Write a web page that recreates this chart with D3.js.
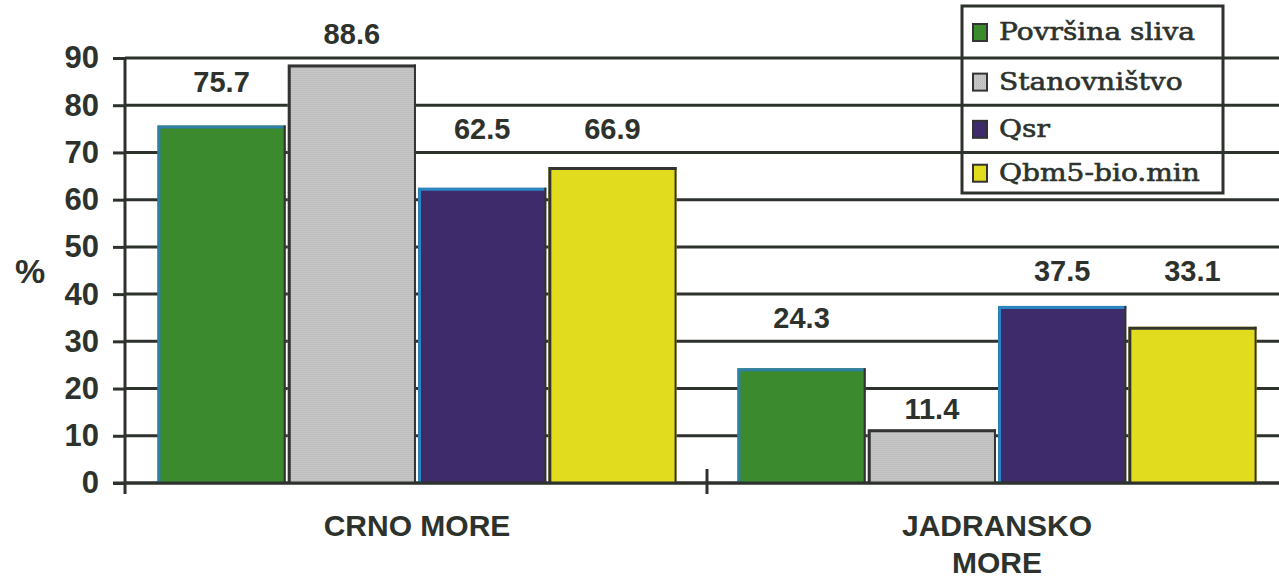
<!DOCTYPE html>
<html>
<head>
<meta charset="utf-8">
<script src="https://cdn.jsdelivr.net/npm/d3@7"></script>
<style>
  html, body { margin: 0; padding: 0; background: #fff; }
  svg { display: block; }
</style>
</head>
<body>
<script>
// Share of the two sea basins (percent)
const categories = ["CRNO MORE", "JADRANSKO MORE"];
const seriesNames = ["Površina sliva", "Stanovništvo", "Qsr", "Qbm5-bio.min"];
const crnoMore = [75.7, 88.6, 62.5, 66.9];
const jadranskoMore = [24.3, 11.4, 37.5, 33.1];
const yTicks = [0, 10, 20, 30, 40, 50, 60, 70, 80, 90];

const values = [crnoMore, jadranskoMore];
const fills = ["#3b8a2e", "url(#stipple)", "#3d2b6b", "#e2dc1e"];
const edges = ["#2f7fa8", "#333", "#2a86c0", "#333"];

const W = 1279, H = 579;
const svg = d3.select("body").append("svg").attr("width", W).attr("height", H);
const sans = "'Liberation Sans', Arial, sans-serif";

// stippled grey fill
const defs = svg.append("defs");
const pat = defs.append("pattern").attr("id", "stipple")
  .attr("width", 2).attr("height", 2).attr("patternUnits", "userSpaceOnUse");
pat.append("rect").attr("width", 2).attr("height", 2).attr("fill", "#d4d4d4");
pat.append("rect").attr("width", 1).attr("height", 1).attr("fill", "#a9a9a9");
pat.append("rect").attr("x", 1).attr("y", 1).attr("width", 1).attr("height", 1).attr("fill", "#b8b8b8");

const axisX = 125;
const y = d3.scaleLinear().domain([0, 90]).range([483, 58]);
const x0 = d3.scaleBand().domain(categories).range([127, 1287])
  .paddingInner(0.105).paddingOuter(0.0525);
const x1 = d3.scaleBand().domain(d3.range(seriesNames.length))
  .range([0, x0.bandwidth()]).paddingInner(0.016);

const ink = "#2d322d";

// gridlines
svg.append("g").selectAll("line").data(yTicks).join("line")
  .attr("x1", axisX).attr("x2", W)
  .attr("y1", d => y(d)).attr("y2", d => y(d))
  .attr("stroke", ink).attr("stroke-width", 3);

// y axis with outward ticks
const yAxis = d3.axisLeft(y).tickValues(yTicks).tickSize(12).tickPadding(14);
const gy = svg.append("g").attr("transform", `translate(${axisX},0)`).call(yAxis);
gy.select(".domain").remove();
gy.selectAll(".tick line").attr("stroke", ink).attr("stroke-width", 3);
gy.selectAll(".tick text")
  .attr("fill", ink)
  .style("font-family", sans)
  .style("font-weight", "bold").style("font-size", "31px");
svg.append("line").attr("x1", axisX).attr("x2", axisX)
  .attr("y1", y(90)).attr("y2", 494).attr("stroke", ink).attr("stroke-width", 3);

// "%" label
svg.append("text").attr("x", 30).attr("y", 283).attr("text-anchor", "middle")
  .attr("fill", ink).style("font-family", sans)
  .style("font-weight", "bold").style("font-size", "34px").text("%");

// value labels sit in the first clear band between gridlines above each bar
const gridStep = 10, minGap = 40;
function labelCenter(v) {
  let k = Math.ceil(v / gridStep) * gridStep;
  if (y(v) - y(k) >= minGap) return (y(v) + y(k)) / 2;
  return (y(k) + y(k + gridStep)) / 2;
}

// bars
const groups = svg.append("g").selectAll("g").data(categories).join("g")
  .attr("transform", d => `translate(${x0(d)},0)`);

groups.each(function(cat, ci) {
  const g = d3.select(this);
  const vals = values[ci];
  g.selectAll("rect.bar").data(vals).join("rect").attr("class", "bar")
    .attr("x", (d, i) => x1(i)).attr("width", x1.bandwidth())
    .attr("y", d => y(d)).attr("height", d => y(0) - y(d))
    .attr("fill", (d, i) => fills[i]);
  // left and top outline
  g.selectAll("path.edge").data(vals).join("path").attr("class", "edge")
    .attr("d", (d, i) => `M${x1(i) + 1.5},${y(0)} V${y(d) + 1.5} H${x1(i) + x1.bandwidth()}`)
    .attr("fill", "none")
    .attr("stroke", (d, i) => edges[i]).attr("stroke-width", 3);
  g.selectAll("line.right").data(vals).join("line").attr("class", "right")
    .attr("x1", (d, i) => x1(i) + x1.bandwidth() - 1).attr("x2", (d, i) => x1(i) + x1.bandwidth() - 1)
    .attr("y1", d => y(d)).attr("y2", y(0))
    .attr("stroke", "#333").attr("stroke-width", 2);
  // value labels
  g.selectAll("text.val").data(vals).join("text").attr("class", "val")
    .attr("x", (d, i) => x1(i) + x1.bandwidth() / 2)
    .attr("y", d => labelCenter(d) + 10)
    .attr("text-anchor", "middle").attr("fill", ink)
    .style("font-family", sans)
    .style("font-weight", "bold").style("font-size", "29px")
    .text(d => d.toFixed(1));
});

// x baseline and category separator tick
svg.append("line").attr("x1", 113).attr("x2", W).attr("y1", y(0)).attr("y2", y(0))
  .attr("stroke", ink).attr("stroke-width", 3);
const sepX = x0(categories[0]) + x0.bandwidth() + x0.step() * x0.paddingInner() / 2;
svg.append("line").attr("x1", sepX).attr("x2", sepX)
  .attr("y1", y(0) - 14).attr("y2", 494).attr("stroke", ink).attr("stroke-width", 3);

// category labels
const catLines = [["CRNO MORE"], ["JADRANSKO", "MORE"]];
svg.append("g").selectAll("text").data(categories).join("text")
  .attr("x", d => x0(d) + x0.bandwidth() / 2)
  .attr("y", 536).attr("text-anchor", "middle").attr("fill", ink)
  .style("font-family", sans)
  .style("font-weight", "bold").style("font-size", "30px")
  .each(function(d, i) {
    d3.select(this).selectAll("tspan").data(catLines[i]).join("tspan")
      .attr("x", x0(d) + x0.bandwidth() / 2)
      .attr("dy", (t, j) => j === 0 ? 0 : 37)
      .text(t => t);
  });

// legend box; its row dividers fall on the gridlines
const lg = svg.append("g");
const lx = 962, lw = 261, ltop = 6, lbottom = 193;
lg.append("rect").attr("x", lx).attr("y", ltop).attr("width", lw).attr("height", lbottom - ltop)
  .attr("fill", "#fff").attr("stroke", ink).attr("stroke-width", 3);
const rowEdges = [ltop, y(90), y(80), y(70), lbottom];
rowEdges.slice(1, 4).forEach(ry => {
  lg.append("line").attr("x1", lx).attr("x2", lx + lw).attr("y1", ry).attr("y2", ry)
    .attr("stroke", ink).attr("stroke-width", 3);
});
const rows = lg.selectAll("g.row").data(seriesNames).join("g").attr("class", "row")
  .attr("transform", (d, i) => `translate(${lx},${(rowEdges[i] + rowEdges[i + 1]) / 2})`);
rows.append("rect").attr("x", 11).attr("y", -8).attr("width", 14).attr("height", 17)
  .attr("fill", (d, i) => fills[i]).attr("stroke", "#333").attr("stroke-width", 2);
rows.append("text").attr("transform", "translate(37,8) scale(1.17,1)").attr("fill", ink)
  .attr("stroke", ink).attr("stroke-width", 0.6)
  .style("font-family", "'DejaVu Serif', serif").style("font-size", "24px")
  .text(d => d);
</script>
</body>
</html>
